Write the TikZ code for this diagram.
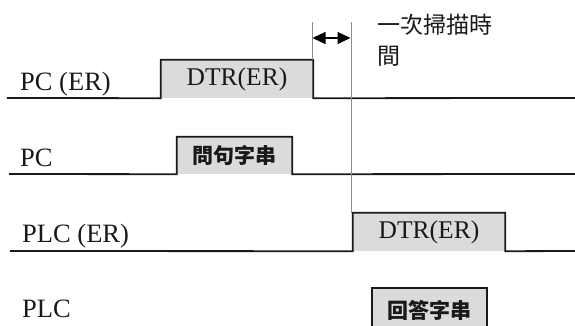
\documentclass[tikz,border=0pt]{standalone}
\usepackage{fontspec}
\setmainfont{Liberation Serif}
\newfontfamily\cjk{Noto Sans CJK TC}
\usetikzlibrary{arrows.meta}
\begin{document}
\begin{tikzpicture}[x=1pt,y=-1pt,
  wave/.style={line width=1.8pt,black!90,line join=miter},
  pulsebox/.style={fill=black!14,inner sep=0pt,draw=none,text=black!90},
  lbl/.style={anchor=base west,inner sep=0pt,font=\fontsize{26.5}{30}\selectfont,text=black!90},
  dtr/.style={font=\fontsize{25.5}{30}\selectfont},
  cjkbold/.style={font=\cjk\bfseries\fontsize{21}{25}\selectfont},
  cjktxt/.style={anchor=base west,inner sep=0pt,font=\cjk\fontsize{23}{28}\selectfont,text=black!90},
  guide/.style={line width=0.6pt,black!45},
  dimarrow/.style={line width=1.2pt,{Triangle[length=13pt,width=12pt]}-{Triangle[length=13pt,width=12pt]}}]
\useasboundingbox (0,0) rectangle (575,325);
% pulse boxes
\node[pulsebox,minimum width=152pt,minimum height=38pt,dtr] (p1) at (237,79) {DTR(ER)};
\node[pulsebox,minimum width=115pt,minimum height=37pt,cjkbold] (p2) at (234.5,155.5) {問句字串};
\node[pulsebox,minimum width=152pt,minimum height=38pt,dtr] (p3) at (429,232) {DTR(ER)};
\node[pulsebox,minimum width=115pt,minimum height=42pt,cjkbold,text depth=0pt] (p4) at (429.5,309) {回答字串};
% labels
\node[lbl] (l1) at (20,90) {PC (ER)};
\node[lbl] (l2) at (20,166) {PC};
\node[lbl] (l3) at (22,242) {PLC (ER)};
\node[lbl] (l4) at (22,317) {PLC};
% waveforms
\coordinate (w1s) at (7,98);   \coordinate (w1e) at (575,98);
\coordinate (w2s) at (9,174);  \coordinate (w2e) at (575,174);
\coordinate (w3s) at (10,251); \coordinate (w3e) at (575,251);
\draw[wave] (w1s) -- (p1.south west) -- (p1.north west) -- (p1.north east) -- (p1.south east) -- (w1e);
\draw[wave] (w2s) -- (p2.south west) -- (p2.north west) -- (p2.north east) -- (p2.south east) -- (w2e);
\draw[wave] (w3s) -- (p3.south west) -- (p3.north west) -- (p3.north east) -- (p3.south east) -- (w3e);
\draw[wave] (p4.south west) -- (p4.north west) -- (p4.north east) -- (p4.south east);
% guides
\coordinate (g1t) at (312,22); \coordinate (g1b) at (312,60);
\coordinate (g2t) at (351,22); \coordinate (g2b) at (351,213);
\draw[guide] (g1t) -- (g1b);
\draw[guide] (g2t) -- (g2b);
\coordinate (a1) at (312.5,38); \coordinate (a2) at (350.5,38);
\draw[dimarrow] (a1) -- (a2);
% scan time text
\node[cjktxt] (t1) at (377,33) {一次掃描時};
\node[cjktxt] (t2) at (377,64) {間};
\end{tikzpicture}
\end{document}
